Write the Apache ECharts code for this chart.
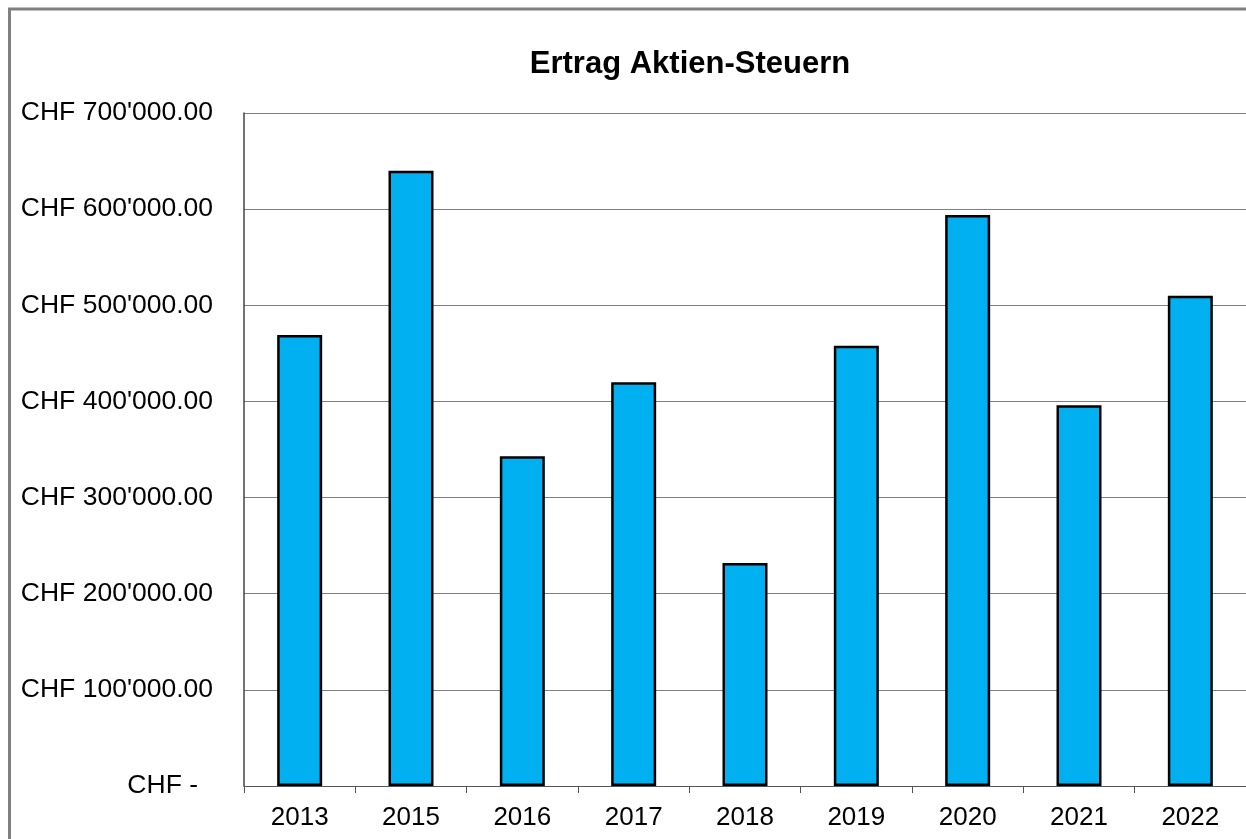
<!DOCTYPE html>
<html>
<head>
<meta charset="utf-8">
<script src="https://cdn.jsdelivr.net/npm/echarts@6/dist/echarts.min.js"></script>
<style>html,body{margin:0;padding:0;background:#fff;}#c{width:1246px;height:839px;}</style>
</head>
<body>
<div id="c"></div>
<script>
const categories = ['2013','2015','2016','2017','2018','2019','2020','2021','2022'];
const values = [469000, 640000, 343000, 420000, 232000, 458000, 594000, 396000, 510000];
const titleText = 'Ertrag Aktien-Steuern';
const yTicks = [0, 100000, 200000, 300000, 400000, 500000, 600000, 700000];

function fmt(v) {
  if (v === 0) return '{z|CHF -}';
  const s = String(Math.round(v));
  const withSep = s.replace(/\B(?=(\d{3})+(?!\d))/g, "'");
  return 'CHF ' + withSep + '.00';
}

const chart = echarts.init(document.getElementById('c'), null, {renderer: 'canvas'});
chart.setOption({
  animation: false,
  backgroundColor: '#fff',
  title: {
    text: titleText,
    left: 685, top: 44, textAlign: 'center',
    textStyle: {fontFamily: 'Liberation Sans, Arial', fontWeight: 'bold', fontSize: 31, color: '#000'}
  },
  graphic: [{
    type: 'rect', silent: true,
    shape: {x: 9.5, y: 9, width: 1400, height: 1000},
    style: {fill: 'none', stroke: '#808080', lineWidth: 3}
  }],
  grid: {left: 244, top: 113, bottom: 53, right: -10, containLabel: false},
  xAxis: {
    type: 'category', data: categories,
    axisLine: {lineStyle: {color: '#555', width: 1}},
    axisTick: {show: true, length: 7, lineStyle: {color: '#555'}},
    axisLabel: {color: '#000', fontFamily: 'Liberation Sans, Arial', fontSize: 26, margin: 19}
  },
  yAxis: {
    type: 'value', min: yTicks[0], max: yTicks[yTicks.length - 1], interval: yTicks[1] - yTicks[0],
    axisLine: {show: true, lineStyle: {color: '#444', width: 1.5}},
    axisTick: {show: false},
    splitLine: {lineStyle: {color: '#808080', width: 1}},
    axisLabel: {
      color: '#000', fontFamily: 'Liberation Sans, Arial', fontSize: 26.5, margin: 31,
      formatter: fmt,
      rich: {z: {fontFamily: 'Liberation Sans, Arial', fontSize: 26.5, color: '#000', padding: [0, 15, 0, 0]}}
    }
  },
  series: [{
    type: 'bar', data: values, barWidth: 45,
    itemStyle: {color: '#00B0F0', borderColor: '#000', borderWidth: 2.5}
  }]
});
</script>
</body>
</html>
